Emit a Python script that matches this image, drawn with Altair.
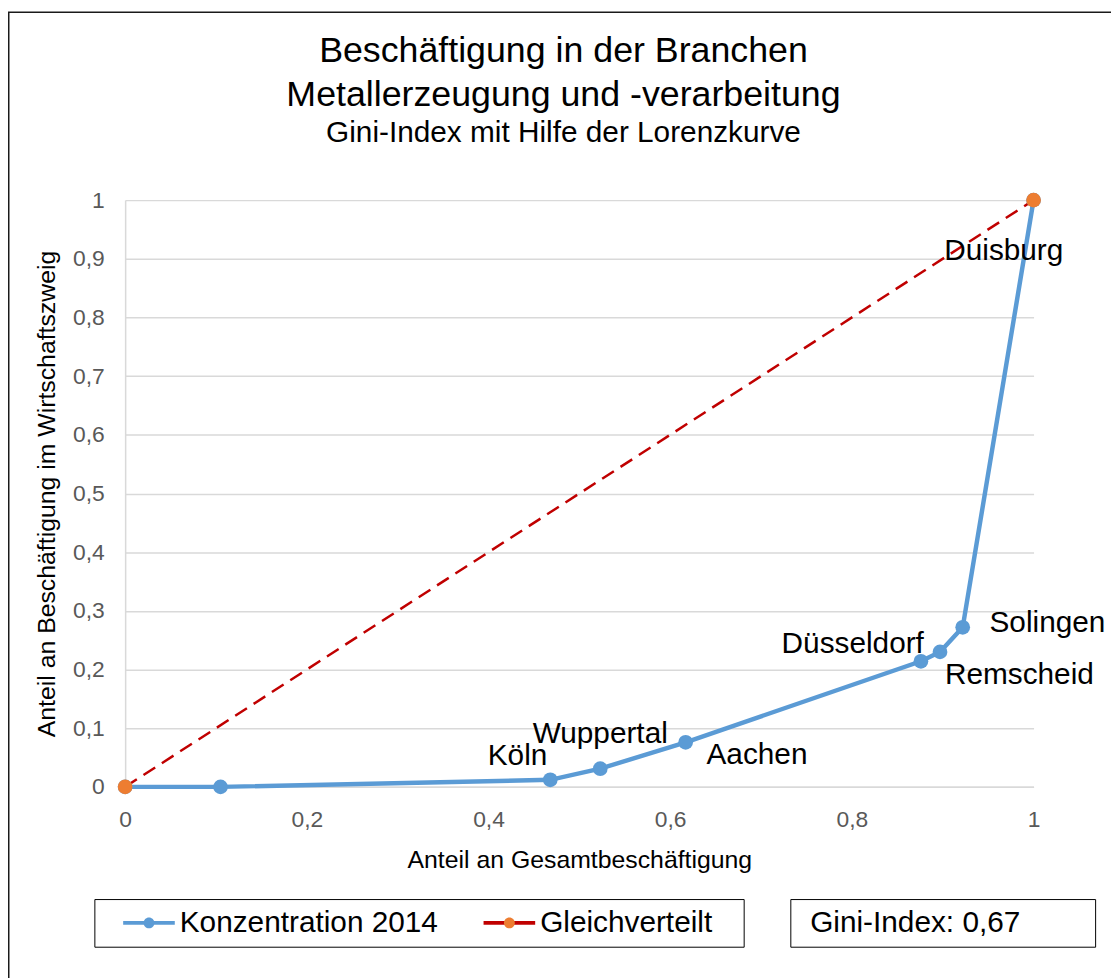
import altair as alt
import pandas as pd

# ---------------- data ----------------
series_lorenz = "Konzentration 2014"
series_equal = "Gleichverteilt"
series_names = [series_lorenz, series_equal]

lorenz_x = [0, 0.105, 0.468, 0.523, 0.617, 0.876, 0.897, 0.922, 1.0]
lorenz_y = [0, 0, 0.012, 0.031, 0.076, 0.214, 0.230, 0.272, 1.0]
lorenz_city = ["", "", "Köln", "Wuppertal", "Aachen", "Düsseldorf", "Remscheid", "Solingen", "Duisburg"]

equal_x = [0, 1]
equal_y = [0, 1]

gini_text = "Gini-Index: 0,67"

x_ticks = [0, 0.2, 0.4, 0.6, 0.8, 1]
y_ticks = [0, 0.1, 0.2, 0.3, 0.4, 0.5, 0.6, 0.7, 0.8, 0.9, 1]

title_lines = ["Beschäftigung in der Branchen", "Metallerzeugung und -verarbeitung"]
subtitle_text = "Gini-Index mit Hilfe der Lorenzkurve"
x_title = "Anteil an Gesamtbeschäftigung"
y_title = "Anteil an Beschäftigung im Wirtschaftszweig"

# ---------------- tables ----------------
df_lorenz = pd.DataFrame({"x": lorenz_x, "y": lorenz_y, "city": lorenz_city,
                          "series": series_lorenz, "marker": series_lorenz})
df_equal = pd.DataFrame({"x": equal_x, "y": equal_y, "city": "",
                         "series": series_equal, "marker": series_equal})
df_all = pd.concat([df_lorenz, df_equal], ignore_index=True)
df_gini = pd.DataFrame({"gini": [gini_text]})

FONT = "Liberation Sans"
BLUE = "#5B9BD5"
RED = "#C00000"
ORANGE = "#ED7D31"
GRID = "#D9D9D9"
BLANK = "\u2800"

num_label = "replace(format(datum.value, '.1~f'), '.', ',')"

x_enc = alt.X("x:Q", scale=alt.Scale(domain=[0, 1], nice=False, zero=False),
              axis=alt.Axis(values=x_ticks, labelExpr=num_label, grid=False, ticks=False,
                            tickSize=0, domain=True, domainColor=GRID, domainWidth=1.5,
                            labelFontSize=23, labelColor="#595959", labelFont=FONT,
                            labelPadding=22, labelFlush=False,
                            title=x_title, titleFontSize=25, titleFont=FONT,
                            titleFontWeight="normal", titleColor="black", titlePadding=16))
y_enc = alt.Y("y:Q", scale=alt.Scale(domain=[0, 1], nice=False, zero=False),
              axis=alt.Axis(values=y_ticks, labelExpr=num_label, grid=True, gridColor=GRID,
                            gridWidth=1.5, ticks=False, tickSize=0, domain=True,
                            domainColor=GRID, domainWidth=1.5,
                            labelFontSize=23, labelColor="#595959", labelFont=FONT,
                            labelPadding=21, labelFlush=False,
                            title=y_title, titleFontSize=25, titleFont=FONT,
                            titleFontWeight="normal", titleColor="black", titlePadding=13))

LEG_X = -31
LEG_Y = 704
LINE_SYMBOL = "M-2,0L2,0"
DOT_SYMBOL = "M-2,0M2,0M-0.42,0A0.42,0.42,0,1,0,0.42,0A0.42,0.42,0,1,0,-0.42,0Z"
leg_label_expr = ("datum.label == 'Gleichverteilt' ? datum.label + '" + BLANK
                  + "' : datum.label")

common_leg = dict(orient="none", legendX=LEG_X, legendY=LEG_Y, direction="horizontal",
                  columns=2, title=None,
                  symbolSize=676, symbolStrokeWidth=4, symbolOffset=31,
                  labelFontSize=30, labelFont=FONT, labelColor="black", labelOffset=16,
                  labelLimit=600, columnPadding=25, padding=9, labelExpr=leg_label_expr)

stroke_scale = alt.Scale(domain=series_names, range=[BLUE, RED])
stroke_legend = alt.Legend(symbolType=LINE_SYMBOL, strokeColor="black", symbolDash=[1, 0],
                           **common_leg)

base = alt.Chart(df_all)

line_lorenz = base.transform_filter(alt.datum.series == series_lorenz).mark_line(
    strokeWidth=4.5).encode(
    x=x_enc, y=y_enc,
    stroke=alt.Stroke("series:N", scale=stroke_scale, legend=stroke_legend))

line_equal = base.transform_filter(alt.datum.series == series_equal).mark_line(
    strokeWidth=2.5, strokeDash=[14, 8]).encode(
    x=x_enc, y=y_enc,
    stroke=alt.Stroke("series:N", scale=stroke_scale, legend=stroke_legend))

dot_legend = alt.Legend(symbolType=DOT_SYMBOL, symbolStrokeColor="transparent",
                        labelOpacity=0, **common_leg)
points = base.mark_circle(size=220, opacity=1).encode(
    x=x_enc, y=y_enc,
    fill=alt.Fill("marker:N", sort=series_names,
                  scale=alt.Scale(range=[BLUE, ORANGE]), legend=dot_legend))


def city_text(names, align, dx, dy):
    return base.transform_filter(
        alt.FieldOneOfPredicate(field="city", oneOf=names)).mark_text(
        align=align, baseline="alphabetic", dx=dx, dy=dy, fontSize=30, font=FONT,
        color="black").encode(x=x_enc, y=y_enc, text="city:N")


labels = [
    city_text(["Köln"], "right", -3, -15),
    city_text(["Wuppertal"], "center", 0, -26),
    city_text(["Aachen"], "left", 21, 22),
    city_text(["Düsseldorf"], "right", 3, -8),
    city_text(["Remscheid"], "left", 5, 32),
    city_text(["Solingen"], "left", 27, 5),
    city_text(["Duisburg"], "center", -30, 60),
]

gini_legend = alt.Legend(orient="none", legendX=670, legendY=LEG_Y, title=None,
                         strokeColor="black", padding=9, symbolSize=400,
                         labelFontSize=30, labelFont=FONT, labelColor="black",
                         labelOffset={"expr": "-19"}, labelLimit=600,
                         labelExpr="datum.label + '" + BLANK * 3 + "'")
gini = alt.Chart(df_gini).mark_point(opacity=0).encode(
    shape=alt.Shape("gini:N", scale=alt.Scale(range=["M0,0M0.1,0"]), legend=gini_legend))

frame = alt.Chart(df_gini).mark_rect(fill="transparent", stroke="#1a1a1a",
                                     strokeWidth=1.5).encode(
    x=alt.value(-117.25), x2=alt.value(1300), y=alt.value(-189.25), y2=alt.value(1100))

chart = alt.layer(frame, line_equal, line_lorenz, points, *labels, gini).properties(
    width=915, height=591,
    padding={"left": 118, "top": 190, "right": 78, "bottom": 189},
    autosize=alt.AutoSizeParams(type="none"),
    title=alt.TitleParams(text=title_lines, subtitle=subtitle_text, anchor="middle",
                          dx=-16, offset=-138, font=FONT, fontSize=36, lineHeight=44,
                          fontWeight="normal", color="black", subtitleFont=FONT,
                          subtitleFontSize=30, subtitleColor="black", subtitlePadding=4),
).resolve_scale(stroke="shared").configure_view(stroke="transparent")

chart.save("out.html", embed_options={"renderer": "svg", "actions": False})
